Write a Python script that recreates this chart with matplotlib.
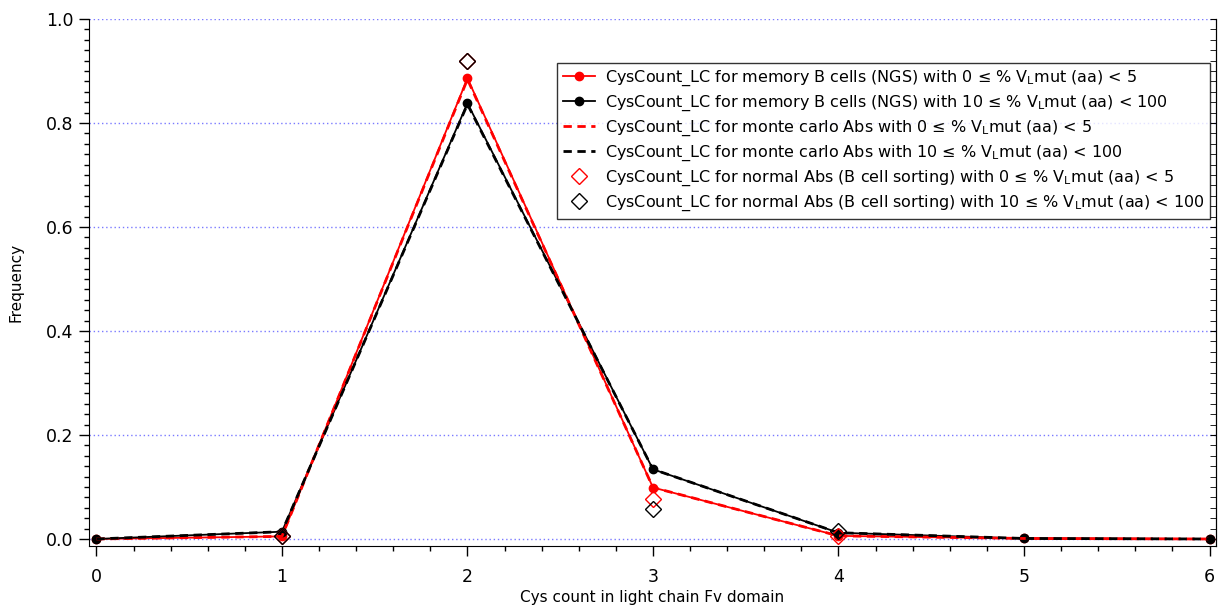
import numpy as np
import matplotlib.pyplot as plt
from matplotlib.ticker import MultipleLocator

plt.rcParams['font.family'] = ['DejaVu Sans']
plt.rcParams['mathtext.default'] = 'regular'

# Cys count in light chain Fv domain
cys_count = [0, 1, 2, 3, 4, 5, 6]

# memory B cells (NGS)
ngs_low = [0.0, 0.005, 0.886, 0.099, 0.006, 0.001, 0.0]
ngs_high = [0.0, 0.014, 0.838, 0.134, 0.012, 0.001, 0.0]

# monte carlo Abs
mc_low = [0.0, 0.005, 0.884, 0.099, 0.006, 0.001, 0.0]
mc_high = [0.0, 0.014, 0.836, 0.134, 0.012, 0.001, 0.0]

# normal Abs (B cell sorting)
normal_low = [np.nan, 0.005, 0.920, 0.077, 0.005, np.nan, np.nan]
normal_high = [np.nan, 0.006, 0.920, 0.058, 0.015, np.nan, np.nan]

rng_low = '0 ≤ % V$_{L}$mut (aa) < 5'
rng_high = '10 ≤ % V$_{L}$mut (aa) < 100'

fig = plt.figure(figsize=(12.21, 6.10), dpi=100)
ax = fig.add_axes([89 / 1221, 1 - 546 / 610, (1216 - 89) / 1221, (546 - 19) / 610])

ax.plot(cys_count, ngs_low, color='red', lw=1.3, marker='o', ms=6,
        label='CysCount_LC for memory B cells (NGS) with ' + rng_low)
ax.plot(cys_count, ngs_high, color='black', lw=1.3, marker='o', ms=6,
        label='CysCount_LC for memory B cells (NGS) with ' + rng_high)
ax.plot(cys_count, mc_low, color='red', lw=2, ls=(0, (3, 2)),
        label='CysCount_LC for monte carlo Abs with ' + rng_low)
ax.plot(cys_count, mc_high, color='black', lw=2, ls=(0, (3, 2)),
        label='CysCount_LC for monte carlo Abs with ' + rng_high)
ax.plot(cys_count, normal_low, ls='none', marker='D', ms=8, mfc='none',
        mec='red', mew=1,
        label='CysCount_LC for normal Abs (B cell sorting) with ' + rng_low)
ax.plot(cys_count, normal_high, ls='none', marker='D', ms=8, mfc='none',
        mec='black', mew=1,
        label='CysCount_LC for normal Abs (B cell sorting) with ' + rng_high)

ax.set_xlim(-0.04, 6.035)
ax.set_ylim(-0.0135, 1.0)

ax.spines['top'].set_visible(False)
ax.xaxis.set_major_locator(MultipleLocator(1))
ax.xaxis.set_minor_locator(MultipleLocator(0.2))
ax.yaxis.set_major_locator(MultipleLocator(0.2))
ax.yaxis.set_minor_locator(MultipleLocator(0.02))
ax.yaxis.set_major_formatter(lambda v, p: f'{v:.1f}')
ax.tick_params(which='major', direction='out', length=7.5, width=1, labelsize=12.5)
ax.tick_params(which='minor', direction='out', length=3.6, width=1)
ax.tick_params(axis='x', which='major', pad=8)
ax.tick_params(axis='y', right=False)

for yv in [0.0, 0.2, 0.4, 0.6, 0.8, 1.0]:
    ax.axhline(yv, color='#7a7aff', lw=1, ls=(0, (1, 2)), zorder=0)

sec = ax.secondary_yaxis('right')
sec.yaxis.set_major_locator(MultipleLocator(0.2))
sec.yaxis.set_minor_locator(MultipleLocator(0.02))
sec.tick_params(which='both', direction='in', length=4.5, labelright=False)

ax.set_xlabel('Cys count in light chain Fv domain', fontsize=11)
ax.set_ylabel('Frequency', fontsize=11)
ax.xaxis.set_label_coords(0.5, -0.083)
ax.yaxis.set_label_coords(-0.0577, 0.5)

leg = ax.legend(loc='upper right', bbox_to_anchor=(0.9947, 0.9165),
                borderaxespad=0, fontsize=11.5, frameon=True, fancybox=False,
                handlelength=2.0, handletextpad=0.6, labelspacing=0.35,
                borderpad=0.35)
leg.get_frame().set_edgecolor('black')
leg.get_frame().set_linewidth(1)

fig.savefig('out.png', dpi=100)
